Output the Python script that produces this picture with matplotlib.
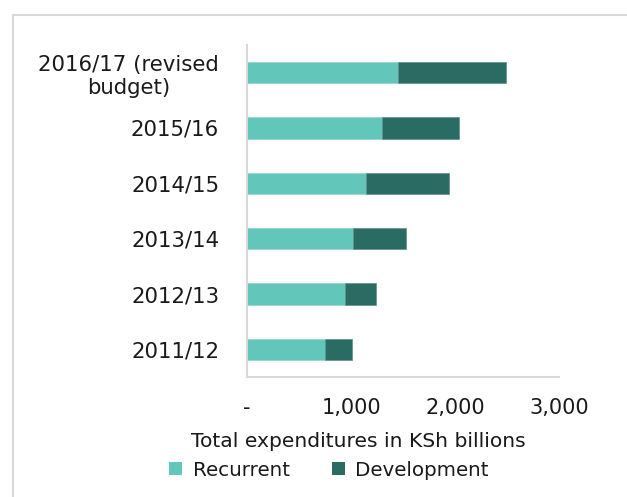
import matplotlib
matplotlib.use("Agg")
import matplotlib.pyplot as plt
from matplotlib.lines import Line2D
from matplotlib.patches import Patch

plt.rcParams['font.family'] = ['DejaVu Sans']

categories = ["2011/12", "2012/13", "2013/14", "2014/15", "2015/16", "2016/17 (revised\nbudget)"]
recurrent = [753, 939, 1022, 1144, 1298, 1449]
development = [259, 298, 507, 801, 743, 1041]
xticks = [0, 1000, 2000, 3000]
xticklabels = ["-", "1,000", "2,000", "3,000"]

c_rec = "#62c6bb"
c_dev = "#2a6b63"

W, H = 627, 497
fig = plt.figure(figsize=(W / 100, H / 100), dpi=100)
ax = fig.add_axes([247 / W, 120 / H, (559 - 247) / W, (452 - 120) / H])

y = list(range(len(categories)))
ax.barh(y, recurrent, height=0.39, color=c_rec, edgecolor="#8fd6ce", linewidth=0.5, label="Recurrent")
ax.barh(y, development, left=recurrent, height=0.39, color=c_dev, edgecolor="#5f918b", linewidth=0.5, label="Development")

ax.set_xlim(0, 3000)
ax.set_ylim(-0.5, len(categories) - 0.5)
ax.set_xticks(xticks)
ax.set_xticklabels(xticklabels, fontsize=15)
ax.set_yticks(y)
ax.set_yticklabels(categories, fontsize=15.3)
for lab in ax.get_yticklabels():
    lab.set_multialignment("center")
ax.tick_params(axis="both", length=0, colors="#1a1a1a")
ax.tick_params(axis="y", pad=20)
ax.tick_params(axis="x", pad=15)

for s in ["top", "right"]:
    ax.spines[s].set_visible(False)
for s in ["left", "bottom"]:
    ax.spines[s].set_color("#d9d9d9")
    ax.spines[s].set_linewidth(1.5)

ax.set_xlabel("Total expenditures in KSh billions", fontsize=14.6, color="#1a1a1a")
ax.xaxis.set_label_coords((358.5 - 247) / (559 - 247), -0.166)

handles = [Patch(facecolor=c_rec), Patch(facecolor=c_dev)]
fig.legend(handles, ["Recurrent", "Development"], loc="center",
           bbox_to_anchor=(329 / W, 1 - 470 / H), ncol=2, frameon=False,
           fontsize=14.3, handlelength=0.65, handleheight=0.65, handletextpad=0.55,
           columnspacing=2.1, labelcolor="#1a1a1a")

# partial frame lines
fig.add_artist(Line2D([12.5 / W, 1], [1 - 14.5 / H, 1 - 14.5 / H], color="#d9d9d9", lw=1.5, transform=fig.transFigure))
fig.add_artist(Line2D([12.5 / W, 12.5 / W], [0, 1 - 14.5 / H], color="#d9d9d9", lw=1.5, transform=fig.transFigure))

fig.savefig("out.png", dpi=100)
